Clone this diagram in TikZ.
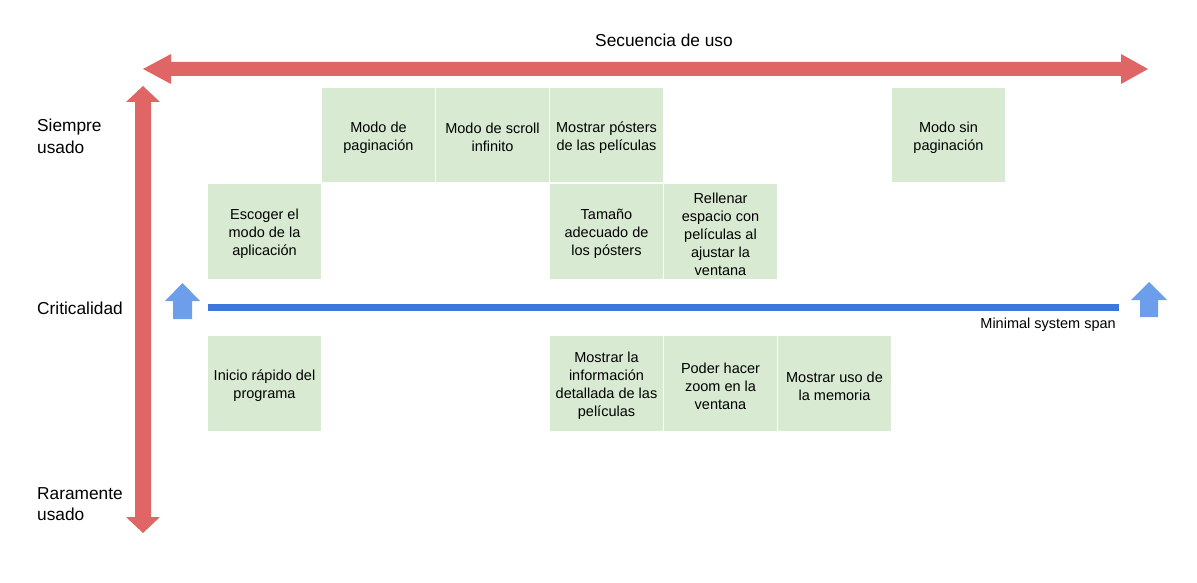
\documentclass[tikz,border=0pt]{standalone}
\usepackage{fontspec}
\setmainfont{Liberation Sans}
\definecolor{redarrow}{HTML}{E06666}
\definecolor{blueline}{HTML}{3C78D8}
\definecolor{bluearrow}{HTML}{6D9EEB}
\definecolor{boxgreen}{HTML}{D9EAD3}
\begin{document}
\begin{tikzpicture}[x=1pt,y=-1pt,
  box/.style={fill=boxgreen,draw=none,minimum width=113pt,minimum height=94pt,inner sep=0pt},
  boxtext/.style={inner sep=0pt,align=center,yshift=-2.5pt,font=\fontsize{14.5pt}{18pt}\selectfont},
  sidelabel/.style={inner sep=0pt,align=left,anchor=west,font=\fontsize{17.3pt}{21.5pt}\selectfont},
  biglabel/.style={inner sep=0pt,font=\fontsize{17.3pt}{21.5pt}\selectfont},
  smalllabel/.style={inner sep=0pt,font=\fontsize{14.5pt}{18pt}\selectfont}]
\useasboundingbox (0,0) rectangle (1197,583);
% horizontal double arrow
\fill[redarrow] (143,69) -- (171,54) -- (171,62) -- (1121,62) -- (1121,54) -- (1148,69)
  -- (1121,84) -- (1121,76) -- (171,76) -- (171,84) -- cycle;
% vertical double arrow
\fill[redarrow] (143,86) -- (160,102) -- (151,102) -- (151,517) -- (160,517) -- (143,533)
  -- (126,517) -- (135,517) -- (135,102) -- (126,102) -- cycle;
% blue minimal system span line
\fill[blueline] (208,304) rectangle (1119,311);
% blue arrows
\fill[bluearrow] (182.5,283) -- (200,301) -- (192,301) -- (192,319) -- (173,319) -- (173,301) -- (165,301) -- cycle;
\fill[bluearrow] (1149,282) -- (1167,300) -- (1158,300) -- (1158,317) -- (1140,317) -- (1140,300) -- (1131,300) -- cycle;
% labels
\node[biglabel] (title) at (664,40) {Secuencia de uso};
\node[sidelabel] (siempre) at (37,136.5) {Siempre\\usado};
\node[sidelabel] (crit) at (37,308) {Criticalidad};
\node[sidelabel] (rara) at (37,504) {Raramente\\usado};
\node[smalllabel,anchor=east] (span) at (1116,325) {Minimal system span};
% row 1
\node[box] (r1c2) at (378.5,135) {};
\node[boxtext] (t1c2) at (r1c2.center) {Modo de\\paginación};
\node[box] (r1c3) at (492.5,135) {};
\node[boxtext] (t1c3) at (r1c3.center) {Modo de scroll\\infinito};
\node[box] (r1c4) at (606.5,135) {};
\node[boxtext] (t1c4) at (r1c4.center) {Mostrar pósters\\de las películas};
\node[box] (r1c7) at (948.5,135) {};
\node[boxtext] (t1c7) at (r1c7.center) {Modo sin\\paginación};
% row 2
\node[box,minimum height=95pt] (r2c1) at (264.5,231.5) {};
\node[boxtext] (t2c1) at (r2c1.center) {Escoger el\\modo de la\\aplicación};
\node[box,minimum height=95pt] (r2c4) at (606.5,231.5) {};
\node[boxtext] (t2c4) at (r2c4.center) {Tamaño\\adecuado de\\los pósters};
\node[box,minimum height=95pt] (r2c5) at (720.5,231.5) {};
\node[boxtext] (t2c5) at (r2c5.center) {Rellenar\\espacio con\\películas al\\ajustar la\\ventana};
% row 3
\node[box,minimum height=95pt] (r3c1) at (264.5,383.5) {};
\node[boxtext] (t3c1) at (r3c1.center) {Inicio rápido del\\programa};
\node[box,minimum height=95pt] (r3c4) at (606.5,383.5) {};
\node[boxtext] (t3c4) at (r3c4.center) {Mostrar la\\información\\detallada de las\\películas};
\node[box,minimum height=95pt] (r3c5) at (720.5,383.5) {};
\node[boxtext] (t3c5) at (r3c5.center) {Poder hacer\\zoom en la\\ventana};
\node[box,minimum height=95pt] (r3c6) at (834.5,383.5) {};
\node[boxtext] (t3c6) at (r3c6.center) {Mostrar uso de\\la memoria};
\end{tikzpicture}
\end{document}
